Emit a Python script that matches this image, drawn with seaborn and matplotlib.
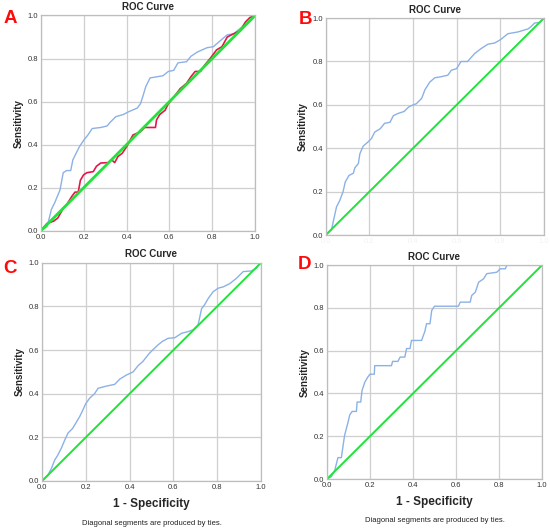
import numpy as np
import pandas as pd
import seaborn as sns
import matplotlib.pyplot as plt

sns.set_style("white")
plt.rcParams['font.family'] = ['Liberation Sans', 'DejaVu Sans']

# ROC curve points (1 - specificity, sensitivity)
a_blue_x = [0, 0.03, 0.05, 0.065, 0.09, 0.105, 0.12, 0.14, 0.15, 0.165, 0.18, 0.2, 0.22, 0.24, 0.28, 0.31, 0.32, 0.35, 0.385, 0.41, 0.45, 0.465, 0.475, 0.49, 0.51, 0.54, 0.57, 0.595, 0.62, 0.64, 0.68, 0.70, 0.73, 0.775, 0.805, 0.84, 0.87, 0.9, 0.93, 0.96, 1.0]
a_blue_y = [0, 0.02, 0.1, 0.13, 0.19, 0.27, 0.28, 0.28, 0.33, 0.36, 0.39, 0.42, 0.445, 0.475, 0.48, 0.487, 0.5, 0.53, 0.54, 0.553, 0.57, 0.59, 0.62, 0.67, 0.71, 0.715, 0.72, 0.74, 0.745, 0.78, 0.785, 0.81, 0.83, 0.85, 0.855, 0.885, 0.91, 0.915, 0.94, 0.96, 1.0]
a_red_x = [0, 0.03, 0.06, 0.08, 0.105, 0.12, 0.145, 0.16, 0.175, 0.185, 0.2, 0.215, 0.245, 0.26, 0.28, 0.315, 0.33, 0.345, 0.36, 0.38, 0.40, 0.43, 0.465, 0.485, 0.535, 0.54, 0.555, 0.58, 0.595, 0.62, 0.65, 0.68, 0.70, 0.72, 0.745, 0.765, 0.79, 0.82, 0.845, 0.87, 0.9, 0.93, 0.955, 0.975, 1.0]
a_red_y = [0, 0.035, 0.045, 0.06, 0.105, 0.12, 0.16, 0.18, 0.18, 0.235, 0.26, 0.27, 0.275, 0.3, 0.315, 0.317, 0.33, 0.317, 0.345, 0.36, 0.39, 0.445, 0.46, 0.48, 0.48, 0.515, 0.54, 0.56, 0.59, 0.62, 0.66, 0.685, 0.715, 0.74, 0.74, 0.77, 0.80, 0.84, 0.855, 0.90, 0.915, 0.93, 0.97, 0.99, 1.0]

b_x = [0, 0.027, 0.04, 0.05, 0.065, 0.08, 0.09, 0.107, 0.127, 0.134, 0.15, 0.157, 0.172, 0.195, 0.21, 0.225, 0.25, 0.27, 0.295, 0.31, 0.33, 0.36, 0.38, 0.40, 0.415, 0.44, 0.455, 0.477, 0.5, 0.53, 0.56, 0.576, 0.6, 0.62, 0.65, 0.683, 0.713, 0.744, 0.774, 0.8, 0.835, 0.88, 0.927, 0.94, 0.957, 0.98, 1.0]
b_y = [0, 0.025, 0.085, 0.13, 0.16, 0.2, 0.245, 0.275, 0.285, 0.31, 0.33, 0.375, 0.41, 0.43, 0.445, 0.475, 0.49, 0.515, 0.52, 0.55, 0.56, 0.57, 0.59, 0.60, 0.605, 0.63, 0.67, 0.705, 0.725, 0.73, 0.737, 0.76, 0.767, 0.80, 0.80, 0.837, 0.86, 0.88, 0.885, 0.9, 0.928, 0.936, 0.95, 0.96, 0.977, 0.98, 1.0]

c_x = [0, 0.027, 0.043, 0.058, 0.073, 0.088, 0.104, 0.119, 0.139, 0.157, 0.172, 0.187, 0.2, 0.218, 0.24, 0.256, 0.294, 0.332, 0.355, 0.386, 0.416, 0.44, 0.46, 0.49, 0.51, 0.53, 0.55, 0.576, 0.607, 0.637, 0.668, 0.69, 0.713, 0.729, 0.744, 0.76, 0.782, 0.805, 0.828, 0.858, 0.889, 0.919, 0.957, 0.98, 0.995, 1.0]
c_y = [0, 0.027, 0.058, 0.096, 0.12, 0.15, 0.188, 0.22, 0.24, 0.27, 0.295, 0.326, 0.355, 0.38, 0.40, 0.425, 0.435, 0.443, 0.467, 0.486, 0.50, 0.53, 0.547, 0.585, 0.605, 0.624, 0.64, 0.654, 0.657, 0.677, 0.685, 0.693, 0.716, 0.79, 0.81, 0.838, 0.868, 0.884, 0.89, 0.905, 0.93, 0.96, 0.963, 0.976, 1.0, 1.0]

d_x = [0, 0.02, 0.036, 0.051, 0.067, 0.075, 0.082, 0.098, 0.106, 0.117, 0.137, 0.14, 0.157, 0.163, 0.176, 0.19, 0.2, 0.22, 0.222, 0.30, 0.305, 0.33, 0.34, 0.362, 0.37, 0.386, 0.393, 0.44, 0.455, 0.463, 0.479, 0.487, 0.5, 0.611, 0.62, 0.666, 0.673, 0.69, 0.705, 0.728, 0.743, 0.79, 0.806, 0.829, 0.837, 1.0]
d_y = [0, 0.01, 0.04, 0.1, 0.1, 0.157, 0.204, 0.266, 0.3, 0.316, 0.316, 0.36, 0.36, 0.414, 0.453, 0.477, 0.49, 0.49, 0.53, 0.53, 0.55, 0.55, 0.57, 0.57, 0.61, 0.61, 0.648, 0.648, 0.69, 0.726, 0.726, 0.788, 0.808, 0.808, 0.827, 0.827, 0.858, 0.874, 0.92, 0.936, 0.96, 0.967, 0.983, 0.983, 1.0, 1.0]

ref_x = [0, 1]
ref_y = [0, 1]

ticks = [0.0, 0.2, 0.4, 0.6, 0.8, 1.0]
tick_labels = ["0.0", "0.2", "0.4", "0.6", "0.8", "1.0"]

blue = "#8cb1e6"
red = "#e8154b"
green = "#1ee43a"

fig = plt.figure(figsize=(5.5, 5.32), dpi=100)

panels = [
    ("A", [0.074, 0.566, 0.390, 0.405], [(a_blue_x, a_blue_y, blue, 1.0), (a_red_x, a_red_y, red, 1.2)], True, False, 2.0),
    ("B", [0.592, 0.558, 0.397, 0.408], [(b_x, b_y, blue, 1.0)], False, False, 1.4),
    ("C", [0.0764, 0.0959, 0.398, 0.410], [(c_x, c_y, blue, 1.0)], True, True, 1.4),
    ("D", [0.5945, 0.0996, 0.391, 0.402], [(d_x, d_y, blue, 1.0)], True, True, 1.4),
]

for letter, rect, curves, show_xticks, show_xlabel, ref_lw in panels:
    ax = fig.add_axes(rect)
    ax.grid(True, color="#cfcfcf", linewidth=0.9)
    ax.set_axisbelow(True)
    for x, y, col, lw in curves:
        df = pd.DataFrame({"x": x, "y": y})
        sns.lineplot(data=df, x="x", y="y", sort=False, estimator=None,
                     color=col, linewidth=lw, ax=ax)
    sns.lineplot(x=ref_x, y=ref_y, color=green, linewidth=ref_lw, ax=ax)
    ax.set_xlim(0, 1)
    ax.set_ylim(0, 1)
    ax.set_xticks(ticks)
    ax.set_yticks(ticks)
    ax.set_yticklabels(tick_labels, fontsize=5.5, color="#333333")
    if show_xticks:
        ax.set_xticklabels(tick_labels, fontsize=5.5, color="#333333")
    else:
        ax.set_xticklabels(tick_labels, fontsize=5.5, color="#f2f2f2")
    ax.tick_params(length=0, pad=2)
    for s in ax.spines.values():
        s.set_color("#bdbdbd")
        s.set_linewidth(0.9)
    ax.set_title("ROC Curve", fontsize=7, fontweight="bold", pad=4)
    ax.set_ylabel("Sensitivity", fontsize=7, fontweight="bold", labelpad=3)
    if show_xlabel:
        ax.set_xlabel("1 - Specificity", fontsize=8.5, fontweight="bold", labelpad=5)
        ax.text(0.5, -0.196, "Diagonal segments are produced by ties.", fontsize=5.5,
                color="#222222", ha="center", va="center", transform=ax.transAxes)
    else:
        ax.set_xlabel("")

letter_style = dict(color="#ff0a0a", fontsize=13.5, fontweight="bold", va="top", ha="left")
fig.text(0.006, 0.982, "A", **letter_style)
fig.text(0.543, 0.979, "B", **letter_style)
fig.text(0.006, 0.512, "C", **letter_style)
fig.text(0.541, 0.518, "D", **letter_style)

fig.savefig("out.png", dpi=100)
